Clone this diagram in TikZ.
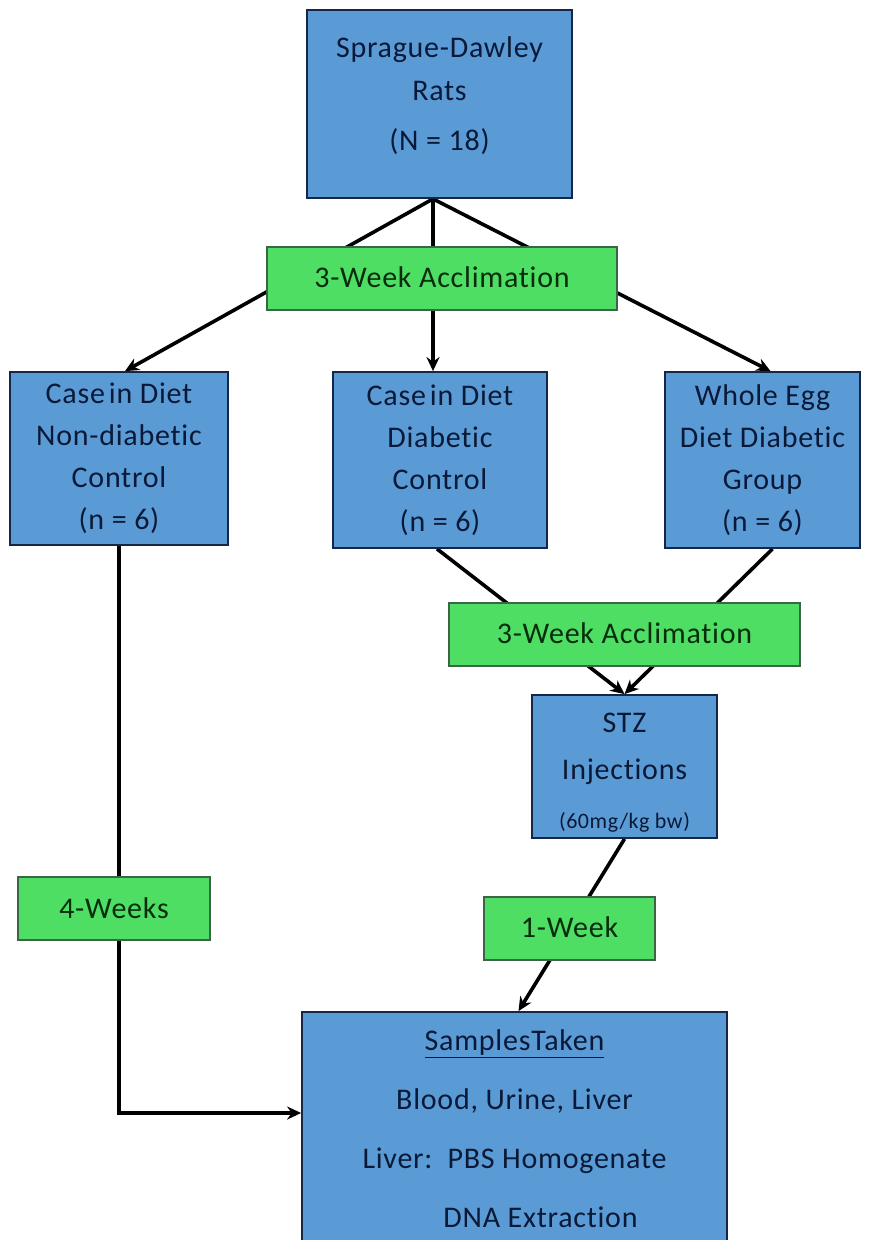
\documentclass[tikz,border=0pt]{standalone}
\usepackage{fontspec}
\setmainfont{Carlito}[LetterSpace=2.5,Ligatures={NoCommon}]
\usetikzlibrary{arrows.meta,backgrounds}
\definecolor{boxblue}{RGB}{91,155,213}
\definecolor{boxedge}{RGB}{22,38,70}
\definecolor{boxgreen}{RGB}{78,222,100}
\definecolor{greenedge}{RGB}{60,100,70}
\definecolor{bluetext}{RGB}{10,25,55}
\definecolor{greentext}{RGB}{8,45,12}
\begin{document}
\begin{tikzpicture}[x=1pt,y=-1pt,
  bluebox/.style={draw=boxedge, line width=1.8pt, fill=boxblue, inner sep=0pt},
  bluelabel/.style={text=bluetext, align=center, inner sep=0pt},
  greenbox/.style={draw=greenedge, line width=1.4pt, fill=boxgreen, text=greentext, inner sep=0pt, font=\fontsize{30}{36}\selectfont},
  conn/.style={line width=3.6pt, draw=black},
  arr/.style={conn, -{Stealth[length=14pt,width=13pt]}}]
\useasboundingbox (0,0) rectangle (870,1240);

\node[bluebox, minimum width=265pt, minimum height=188pt,
  label={[bluelabel, yshift=8pt, font=\fontsize{30}{43}\selectfont]center:Sprague-Dawley\\Rats\\[7pt](N = 18)}] (top) at (439.5,104) {};

\node[greenbox, minimum width=350pt, minimum height=63pt] (acc1) at (442,278.5) {\raisebox{2pt}{3-Week Acclimation}};

\node[bluebox, minimum width=218pt, minimum height=173pt,
  label={[bluelabel, font=\fontsize{30}{42}\selectfont]center:Case\hspace{4pt}in Diet\\Non-diabetic\\Control\\(n = 6)}] (left) at (119,458.5) {};
\node[bluebox, minimum width=214pt, minimum height=176pt,
  label={[bluelabel, font=\fontsize{30}{42}\selectfont]center:Case\hspace{4pt}in Diet\\Diabetic\\Control\\(n = 6)}] (mid) at (440,460) {};
\node[bluebox, minimum width=195pt, minimum height=176pt,
  label={[bluelabel, font=\fontsize{30}{42}\selectfont]center:Whole Egg\\Diet Diabetic\\Group\\(n = 6)}] (right) at (762.5,460) {};

\node[greenbox, minimum width=351pt, minimum height=63pt] (acc2) at (624.5,634.5) {\raisebox{2pt}{3-Week Acclimation}};

\node[bluebox, minimum width=185pt, minimum height=143pt,
  label={[bluelabel, yshift=-6pt, font=\fontsize{30}{47}\selectfont]center:STZ\\Injections\\[2pt]{\fontsize{22}{26}\selectfont (60mg/kg bw)}}] (stz) at (624.5,766.5) {};

\node[greenbox, minimum width=192pt, minimum height=63pt] (four) at (114,908.5) {4-Weeks};
\node[greenbox, minimum width=171pt, minimum height=63pt] (one) at (569.5,928.5) {\raisebox{2pt}{1-Week}};

\node[bluebox, minimum width=425pt, minimum height=230pt,
  label={[bluelabel, yshift=-2pt, font=\fontsize{30}{59}\selectfont]center:\underline{SamplesTaken}\\Blood, Urine, Liver\\Liver:\ \ PBS Homogenate\\\hspace*{52pt}DNA Extraction}] (samples) at (514.5,1127) {};

\begin{scope}[on background layer]
\fill[white] (0,0) rectangle (870,1240);
\draw[arr] ([xshift=-6.5pt]top.south) -- ([xshift=6pt]left.north);
\draw[arr] ([xshift=-6.5pt]top.south) -- ([xshift=-7pt]mid.north);
\draw[arr] ([xshift=-6.5pt]top.south) -- ([xshift=8pt]right.north);
\draw[arr] ([xshift=-3pt]mid.south) -- (stz.north);
\draw[arr] ([xshift=10pt]right.south) -- (stz.north);
\draw[arr] (stz.south) -- ([xshift=4pt]samples.north);
\draw[arr] (left.south) |- ([yshift=14pt]samples.west);
\end{scope}
\end{tikzpicture}
\end{document}
